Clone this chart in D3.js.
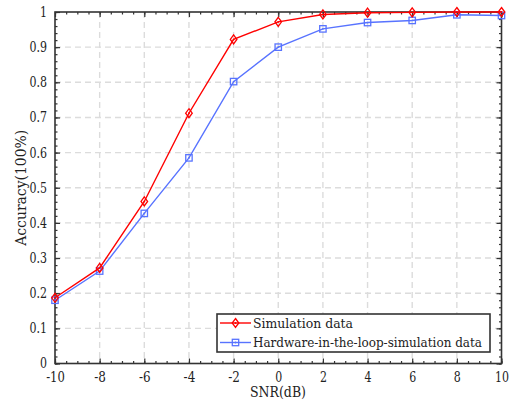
<!DOCTYPE html>
<html>
<head>
<meta charset="utf-8">
<script src="https://cdn.jsdelivr.net/npm/d3@7"></script>
<style>
  html, body { margin: 0; padding: 0; background: #fff; }
  svg { display: block; }
  svg text { font-family: "DejaVu Serif", serif !important; fill: #222; }
</style>
</head>
<body>
<svg id="chart" width="513" height="404"></svg>
<script>
// SNR sweep and measured accuracies
const snr = [-10, -8, -6, -4, -2, 0, 2, 4, 6, 8, 10];
const simulation = [0.187, 0.272, 0.461, 0.712, 0.922, 0.972, 0.993, 0.998, 0.999, 1.0, 1.0];
const hardwareInLoop = [0.180, 0.263, 0.427, 0.585, 0.802, 0.900, 0.952, 0.970, 0.976, 0.992, 0.990];
const seriesNames = ["Simulation data", "Hardware-in-the-loop-simulation data"];
const xTicks = [-10, -8, -6, -4, -2, 0, 2, 4, 6, 8, 10];
const xTickLabels = ["-10", "-8", "-6", "-4", "-2", "0", "2", "4", "6", "8", "10"];
const yTicks = [0, 0.1, 0.2, 0.3, 0.4, 0.5, 0.6, 0.7, 0.8, 0.9, 1];
const yTickLabels = ["0", "0.1", "0.2", "0.3", "0.4", "0.5", "0.6", "0.7", "0.8", "0.9", "1"];
const xLabel = "SNR(dB)";
const yLabel = "Accuracy(100%)";

const svg = d3.select("#chart");
const margin = { left: 55, right: 11.5, top: 12, bottom: 40.5 };
const W = 513, H = 404;
const x = d3.scaleLinear().domain([-10, 10]).range([margin.left, W - margin.right]);
const y = d3.scaleLinear().domain([0, 1]).range([H - margin.bottom, margin.top]);
const x0 = x.range()[0], x1 = x.range()[1], y0 = y.range()[0], y1 = y.range()[1];

// narrow serif metrics for numeric labels (em units)
const glyphEm = { "-": 0.333, ".": 0.25 };
const labelWidth = (s, size) => size * Array.from(s).reduce((w, c) => w + (glyphEm[c] ?? 0.5), 0);

// dashed grid
const grid = svg.append("g");
grid.selectAll(".gx").data(xTicks.slice(1, -1)).join("line")
  .attr("x1", d => x(d)).attr("x2", d => x(d)).attr("y1", y1).attr("y2", y0)
  .attr("stroke", "#dcdcdc").attr("stroke-width", 1.4).attr("stroke-dasharray", "6,4");
grid.selectAll(".gy").data(yTicks.slice(1, -1)).join("line")
  .attr("x1", x0).attr("x2", x1).attr("y1", d => y(d)).attr("y2", d => y(d))
  .attr("stroke", "#dcdcdc").attr("stroke-width", 1.4).attr("stroke-dasharray", "6,4");

// axes: inward ticks on all four sides with minor ticks
const axisColor = "#333";
const tickFont = 14;
const xMinor = d3.range(-10, 10.001, 0.5);
const yMinor = d3.range(0, 1.0001, 0.02);
function styleAxis(g) {
  g.select(".domain").remove();
  g.attr("font-family", null);
  g.selectAll(".tick line").attr("stroke", axisColor).attr("stroke-width", 1.2);
  g.selectAll(".tick text").attr("font-size", tickFont).attr("fill", "#222")
    .each(function () {
      const t = d3.select(this), s = t.text();
      if (s) t.attr("textLength", labelWidth(s, tickFont)).attr("lengthAdjust", "spacingAndGlyphs");
    });
}
svg.append("g").attr("transform", `translate(0,${y0})`)
  .call(d3.axisBottom(x).tickValues(xMinor).tickSize(-2.5).tickFormat(""))
  .call(styleAxis);
svg.append("g").attr("transform", `translate(0,${y1})`)
  .call(d3.axisTop(x).tickValues(xMinor).tickSize(-2.5).tickFormat(""))
  .call(styleAxis);
svg.append("g").attr("transform", `translate(${x0},0)`)
  .call(d3.axisLeft(y).tickValues(yMinor).tickSize(-2.5).tickFormat(""))
  .call(styleAxis);
svg.append("g").attr("transform", `translate(${x1},0)`)
  .call(d3.axisRight(y).tickValues(yMinor).tickSize(-2.5).tickFormat(""))
  .call(styleAxis);

svg.append("g").attr("transform", `translate(0,${y0})`)
  .call(d3.axisBottom(x).tickValues(xTicks).tickSize(-5).tickPadding(9)
    .tickFormat((d, i) => xTickLabels[i]))
  .call(styleAxis);
svg.append("g").attr("transform", `translate(0,${y1})`)
  .call(d3.axisTop(x).tickValues(xTicks).tickSize(-5).tickFormat("")).call(styleAxis);
svg.append("g").attr("transform", `translate(${x0},0)`)
  .call(d3.axisLeft(y).tickValues(yTicks).tickSize(-5).tickPadding(8)
    .tickFormat((d, i) => yTickLabels[i]))
  .call(styleAxis);
svg.append("g").attr("transform", `translate(${x1},0)`)
  .call(d3.axisRight(y).tickValues(yTicks).tickSize(-5).tickFormat("")).call(styleAxis);

// frame
svg.append("rect").attr("x", x0).attr("y", y1).attr("width", x1 - x0).attr("height", y0 - y1)
  .attr("fill", "none").attr("stroke", axisColor).attr("stroke-width", 1.6);

// series
const red = "#ff0000", blue = "#5873ff";
const line = d3.line().x(d => x(d[0])).y(d => y(d[1]));
const simPts = snr.map((s, i) => [s, simulation[i]]);
const hilPts = snr.map((s, i) => [s, hardwareInLoop[i]]);

function diamond(g, cx, cy, color) {
  g.append("path").attr("d", `M${cx},${cy - 4.5}L${cx + 3.3},${cy}L${cx},${cy + 4.5}L${cx - 3.3},${cy}Z`)
    .attr("fill", "none").attr("stroke", color).attr("stroke-width", 1.3);
  g.append("circle").attr("cx", cx).attr("cy", cy).attr("r", 0.9).attr("fill", color);
}
function square(g, cx, cy, color) {
  g.append("rect").attr("x", cx - 3.2).attr("y", cy - 3.2).attr("width", 6.4).attr("height", 6.4)
    .attr("fill", "none").attr("stroke", color).attr("stroke-width", 1.3);
  g.append("circle").attr("cx", cx).attr("cy", cy).attr("r", 0.9).attr("fill", color);
}

const gh = svg.append("g");
gh.append("path").datum(hilPts).attr("d", line).attr("fill", "none").attr("stroke", blue).attr("stroke-width", 1.4);
hilPts.forEach(p => square(gh, x(p[0]), y(p[1]), blue));
const gs = svg.append("g");
gs.append("path").datum(simPts).attr("d", line).attr("fill", "none").attr("stroke", red).attr("stroke-width", 1.4);
simPts.forEach(p => diamond(gs, x(p[0]), y(p[1]), red));

// axis titles
svg.append("text").attr("x", 278).attr("y", 397).attr("text-anchor", "middle")
  .attr("font-size", 14).attr("textLength", 56).attr("lengthAdjust", "spacingAndGlyphs").text(xLabel);
svg.append("text").attr("transform", `translate(26,${(y0 + y1) / 2}) rotate(-90)`)
  .attr("text-anchor", "middle").attr("font-size", 14)
  .attr("textLength", 116).attr("lengthAdjust", "spacingAndGlyphs").text(yLabel);

// legend
const lg = svg.append("g");
const lx = 217, ly = 314, lw = 273, lh = 38;
const legendTextLen = [100, 229];
lg.append("rect").attr("x", lx).attr("y", ly).attr("width", lw).attr("height", lh)
  .attr("fill", "#fff").attr("stroke", axisColor).attr("stroke-width", 1.6);
const rows = [{ name: seriesNames[0], color: red, mark: diamond }, { name: seriesNames[1], color: blue, mark: square }];
rows.forEach((r, i) => {
  const cy = ly + 9 + i * 19.5;
  lg.append("line").attr("x1", lx + 3).attr("x2", lx + 34).attr("y1", cy).attr("y2", cy)
    .attr("stroke", r.color).attr("stroke-width", 1.4);
  r.mark(lg, lx + 18.5, cy, r.color);
  lg.append("text").attr("x", lx + 36).attr("y", cy + 4.5).attr("font-size", 13.5)
    .attr("textLength", legendTextLen[i]).attr("lengthAdjust", "spacingAndGlyphs").text(r.name);
});
</script>
</body>
</html>
